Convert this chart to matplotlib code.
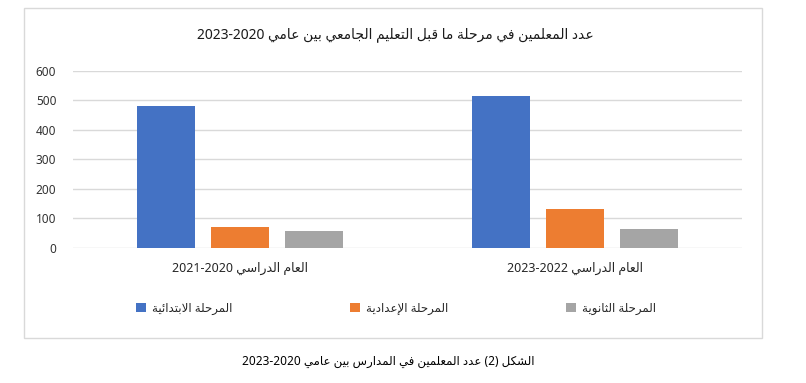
import numpy as np
import matplotlib
matplotlib.use("Agg")
from matplotlib import pyplot as plt
from matplotlib.patches import Rectangle

# Data
categories = ['العام الدراسي 2020-2021', 'العام الدراسي 2022-2023']
series_names = ['المرحلة الابتدائية', 'المرحلة الإعدادية', 'المرحلة الثانوية']
primary = [480, 514]
preparatory = [72, 132]
secondary = [58, 64]
yticks = [0, 100, 200, 300, 400, 500, 600]
title = 'عدد المعلمين في مرحلة ما قبل التعليم الجامعي بين عامي 2020-2023'
caption = 'الشكل (2) عدد المعلمين في المدارس بين عامي 2020-2023'

colors = ['#4472C4', '#ED7D31', '#A5A5A5']

# matplotlib has no Arabic shaping, so do a small one by hand:
# letter -> (isolated form code in Presentation Forms-B, joins both sides)
FORMS = {
    'ا': (0xFE8D, False), 'إ': (0xFE87, False), 'أ': (0xFE83, False),
    'ئ': (0xFE89, True), 'ب': (0xFE8F, True), 'ة': (0xFE93, False),
    'ت': (0xFE95, True), 'ث': (0xFE99, True), 'ج': (0xFE9D, True),
    'ح': (0xFEA1, True), 'د': (0xFEA9, False), 'ر': (0xFEAD, False),
    'س': (0xFEB1, True), 'ش': (0xFEB5, True), 'ع': (0xFEC9, True),
    'ف': (0xFED1, True), 'ق': (0xFED5, True), 'ك': (0xFED9, True),
    'ل': (0xFEDD, True), 'م': (0xFEE1, True), 'ن': (0xFEE5, True),
    'و': (0xFEED, False), 'ي': (0xFEF1, True),
}
LAMALEF = {'ا': 0xFEFB, 'إ': 0xFEF9, 'أ': 0xFEF7}


def shape_word(w):
    units = []
    i = 0
    while i < len(w):
        if w[i] == 'ل' and i + 1 < len(w) and w[i + 1] in LAMALEF:
            units.append(('LA', w[i + 1]))
            i += 2
        else:
            units.append((w[i], None))
            i += 1

    def joins_next(u):
        return u[0] != 'LA' and u[0] in FORMS and FORMS[u[0]][1]

    def joins_prev(u):
        return u[0] == 'LA' or u[0] in FORMS

    out = []
    for k, u in enumerate(units):
        prev = k > 0 and joins_next(units[k - 1]) and joins_prev(u)
        nxt = k + 1 < len(units) and joins_next(u) and joins_prev(units[k + 1])
        if u[0] == 'LA':
            out.append(chr(LAMALEF[u[1]] + (1 if prev else 0)))
        elif u[0] in FORMS:
            f = 3 if (prev and nxt) else 1 if prev else 2 if nxt else 0
            out.append(chr(FORMS[u[0]][0] + f))
        else:
            out.append(u[0])
    return ''.join(out)


def ar(text):
    vis = []
    for t in reversed(text.split(' ')):
        if any(c in FORMS for c in t):
            vis.append(shape_word(t)[::-1])
        elif '-' in t:
            # the reference shows year ranges right-to-left (2021-2020)
            vis.append('-'.join(reversed(t.split('-'))))
        else:
            vis.append(t)
    return ' '.join(vis)


plt.rcParams['font.family'] = ['Noto Sans', 'DejaVu Sans']

W, H = 806, 383
fig = plt.figure(figsize=(W / 100, H / 100), dpi=100)
ax = fig.add_axes([73 / W, 1 - 248 / H, 669 / W, 177.5 / H])

x = np.arange(len(categories))
width = 0.173
offsets = [-0.221, 0, 0.221]
for vals, off, col, name in zip([primary, preparatory, secondary], offsets, colors, series_names):
    ax.bar(x + off, vals, width, color=col, label=ar(name), zorder=3)

ax.set_xlim(-0.5, 1.5)
ax.set_ylim(0, 600)
ax.set_yticks(yticks)
ax.set_xticks(x, [ar(c) for c in categories])
ax.grid(axis='y', color='#d9d9d9', linewidth=1, zorder=0)
ax.tick_params(axis='y', length=0, pad=12, labelsize=8.5, labelcolor='#333333')
ax.tick_params(axis='x', length=0, pad=10, labelsize=9, labelcolor='#262626')
for s in ax.spines.values():
    s.set_visible(False)

leg = ax.legend(loc='center', bbox_to_anchor=(396 / W, 1 - 308 / H), bbox_transform=fig.transFigure,
                ncol=3, frameon=False, fontsize=8.5, handlelength=0.85, handleheight=0.85,
                handletextpad=0.5, columnspacing=10.0)
for t in leg.get_texts():
    t.set_color('#262626')

fig.text(395 / W, 1 - 35 / H, ar(title), ha='center', va='center', fontsize=10, color='#1a1a1a')
fig.text(388 / W, 1 - 362 / H, ar(caption), ha='center', va='center', fontsize=8.5, color='black')

fig.patches.append(Rectangle((24 / W, 1 - 338 / H), 738 / W, 330 / H, transform=fig.transFigure,
                             fill=False, edgecolor='#d9d9d9', linewidth=1))

fig.savefig('out.png', dpi=100)
